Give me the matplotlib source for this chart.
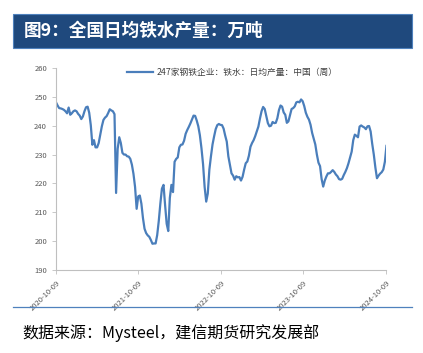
# 全国日均铁水产量 (247家钢铁企业, 周度)
import matplotlib
matplotlib.use('Agg')
import matplotlib.pyplot as plt
import pandas as pd

plt.rcParams['font.family'] = ['Noto Sans CJK SC', 'DejaVu Sans']

# Weekly values, starting 2020-10-09
start_date = '2020-10-09'
hot_metal = [
    248.1, 247.0, 246.1, 246.0, 245.8, 245.5, 245.0, 244.3, 246.3, 243.8,
    244.3, 245.0, 245.3, 245.0, 244.1, 243.5, 242.3, 243.2, 245.0, 246.4,
    246.6, 244.5, 240.2, 233.4, 235.0, 232.5, 232.5, 234.0, 236.8, 239.8,
    242.0, 242.8, 243.3, 244.4, 245.7, 245.3, 245.0, 244.0, 216.7, 232.0,
    236.0, 234.0, 230.6, 230.0, 230.0, 229.4, 229.3, 228.5, 226.5, 223.3,
    218.8, 211.2, 215.5, 215.8, 213.0, 208.0, 204.3, 202.8, 202.0, 201.5,
    200.4, 199.1, 199.2, 199.2, 202.1, 207.0, 213.0, 218.2, 219.5, 212.5,
    206.0, 203.5, 215.0, 219.5, 217.0, 227.5, 228.5, 229.0, 232.5, 233.4,
    233.5, 234.8, 237.2, 238.5, 239.6, 240.8, 242.2, 243.5, 243.4, 241.8,
    239.8, 236.7, 232.2, 226.7, 218.8, 213.7, 216.5, 224.8, 229.4, 233.5,
    236.3, 238.8, 240.2, 240.6, 240.3, 240.2, 239.0, 236.6, 234.5, 229.4,
    226.4, 223.5, 222.7, 221.3, 222.5, 222.1, 222.2, 221.0, 222.3, 224.8,
    227.0, 227.6, 229.6, 232.7, 234.0, 235.0, 236.4, 238.0, 239.7, 242.5,
    245.0, 246.5, 245.8, 243.4, 240.9, 239.8, 240.0, 241.3, 240.9, 241.0,
    242.6, 245.4, 247.0, 246.6, 244.6, 243.8, 241.0, 241.5, 243.6, 245.8,
    246.1, 246.7, 248.1, 248.3, 248.1, 249.1, 248.5, 246.8, 244.5, 243.1,
    242.1, 240.3, 237.5, 235.5, 233.5, 230.0, 227.2, 226.0, 221.5, 218.9,
    221.0, 222.4, 223.5, 223.5, 224.0, 224.6, 224.0, 223.1, 222.5, 221.5,
    221.3, 221.6, 222.9, 224.0, 225.3, 227.0, 229.0, 231.0, 235.0, 236.9,
    236.5, 236.0, 239.7, 240.1, 239.7, 239.4, 238.8, 239.8, 239.9, 238.0,
    233.7, 230.0, 225.5, 221.8, 222.7, 223.4, 223.9, 224.8, 227.5, 233.0,
]
tick_dates = ['2020-10-09', '2021-10-09', '2022-10-09', '2023-10-09', '2024-10-09']
series_label = '247家钢铁企业：铁水：日均产量：中国（周）'
title = '图9：全国日均铁水产量：万吨'
source = '数据来源：Mysteel，建信期货研究发展部'

dates = pd.date_range(start_date, periods=len(hot_metal), freq='7D')
ticks = pd.to_datetime(tick_dates)

fig = plt.figure(figsize=(4.23, 3.53), dpi=100)

# Header bar with title
fig.patches.append(plt.Rectangle((13 / 423, 1 - 48 / 353), 399 / 423, 34 / 353,
                                 transform=fig.transFigure, facecolor='#1F497D',
                                 edgecolor='#4F81BD', linewidth=0.8))
fig.text(24 / 423, 1 - 31 / 353, title, color='white', fontsize=12.7,
         fontweight='bold', va='center', ha='left')

# Chart area
ax = fig.add_axes([56 / 423, 83 / 353, 330 / 423, 202 / 353])
ax.plot(dates, hot_metal, color='#4A7EBB', linewidth=1.6, label=series_label)

ax.set_ylim(190, 260)
ax.set_yticks(range(190, 261, 10))
ax.set_xlim(ticks[0], ticks[-1])
ax.set_xticks(ticks)
ax.set_xticklabels(tick_dates, rotation=45, ha='right', rotation_mode='anchor')
ax.tick_params(labelsize=5.5, length=3, width=0.6)
ax.tick_params(axis='x', colors='#BFBFBF', labelcolor='#595959')
ax.tick_params(axis='y', colors='#BFBFBF', labelcolor='#595959')

for side in ['top', 'right']:
    ax.spines[side].set_visible(False)
for side in ['left', 'bottom']:
    ax.spines[side].set_color('#BFBFBF')
    ax.spines[side].set_linewidth(0.8)

leg = ax.legend(loc='upper center', bbox_to_anchor=(0.535, 1.04), frameon=False,
                fontsize=6.3, handlelength=3.0, handletextpad=0.4)
for t in leg.get_texts():
    t.set_color('#404040')

# Separator and source note
fig.add_artist(plt.Line2D([13 / 423, 412 / 423], [1 - 307 / 353, 1 - 307 / 353],
                          transform=fig.transFigure, color='#4F81BD', linewidth=0.9))
fig.text(22 / 423, 1 - 333 / 353, source, fontsize=11.5, style='italic',
         va='center', ha='left', color='black')

fig.savefig('out.png', dpi=100)
print('Visualization complete.')
